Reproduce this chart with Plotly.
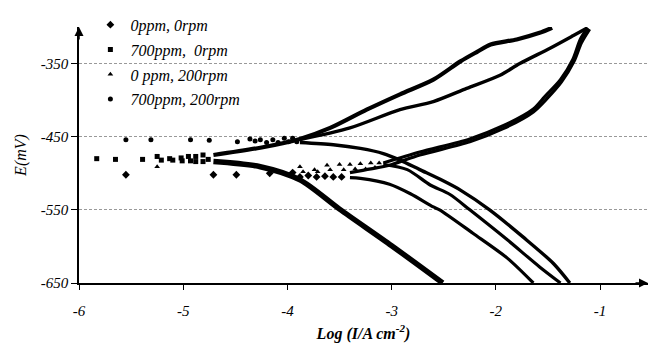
import plotly.graph_objects as go

# ---------------- data (log I, E/mV) ----------------
# 0ppm, 0rpm (diamonds)
d0_sparse_x = [-5.55, -4.71, -4.49, -4.17, -3.95, -3.88, -3.80, -3.72, -3.64, -3.56, -3.48]
d0_sparse_E = [-502, -502, -502, -500, -499, -505, -503, -505, -504, -505, -505]
d0_anod_x = [-3.40, -3.20, -3.02, -2.73, -2.25, -1.93, -1.64, -1.51, -1.37, -1.25, -1.18, -1.10]
d0_anod_E = [-499, -494, -489, -475, -457, -439, -416, -398, -375, -347, -322, -303]
d0_cath_x = [-3.40, -3.30, -3.02, -2.82, -2.60, -2.54, -2.22, -1.89, -1.64]
d0_cath_E = [-506, -507, -515, -528, -546, -550, -582, -616, -650]

# 700ppm, 0rpm (squares)
s7_sparse_x = [-5.83, -5.65, -5.39, -5.25, -5.21, -5.13, -5.10, -5.02, -5.01, -4.95, -4.93, -4.88, -4.88, -4.81, -4.81, -4.76]
s7_sparse_E = [-480, -481, -481, -477, -482, -480, -482, -479, -483, -477, -483, -477, -484, -475, -484, -481]
s7_anod_x = [-4.71, -4.26, -3.88, -3.59, -3.24, -2.92, -2.60, -2.34, -2.18, -2.05, -1.80, -1.58, -1.46]
s7_anod_E = [-475, -465, -453, -438, -413, -392, -372, -347, -334, -324, -317, -308, -301]
s7_cath_x = [-4.71, -4.26, -3.88, -3.50, -3.00, -2.51]
s7_cath_E = [-484, -491, -509, -549, -599, -650]

# 0 ppm, 200rpm (triangles)
t0_sparse_x = [-5.25, -3.88, -3.85, -3.74, -3.71, -3.62, -3.59, -3.50, -3.46, -3.40, -3.35, -3.30, -3.25, -3.20, -3.16, -3.12]
t0_sparse_E = [-491, -491, -498, -495, -498, -489, -495, -488, -495, -488, -494, -487, -494, -486, -492, -486]
t0_anod_x = [-3.08, -2.73, -2.25, -1.93, -1.64, -1.53, -1.38, -1.26, -1.19, -1.12]
t0_anod_E = [-486, -471, -453, -435, -412, -395, -372, -344, -317, -301]
t0_cath_x = [-3.08, -2.85, -2.63, -2.44, -2.25, -1.89, -1.58, -1.38]
t0_cath_E = [-488, -495, -516, -529, -550, -591, -628, -650]

# 700ppm, 200rpm (circles)
c7_sparse_x = [-5.55, -5.31, -4.93, -4.75, -4.48, -4.36, -4.31, -4.26, -4.20, -4.14, -4.09, -4.03, -3.99, -3.95, -3.91]
c7_sparse_E = [-454, -454, -454, -455, -457, -453, -456, -454, -458, -454, -458, -452, -457, -452, -457]
c7_anod_x = [-3.88, -3.40, -2.92, -2.60, -2.28, -1.96, -1.77, -1.48, -1.26, -1.12]
c7_anod_E = [-454, -438, -413, -402, -384, -366, -350, -329, -312, -301]
c7_cath_x = [-3.88, -3.56, -3.30, -3.08, -2.92, -2.73, -2.51, -2.34, -2.06, -1.74, -1.45, -1.29]
c7_cath_E = [-458, -461, -466, -473, -482, -495, -510, -523, -550, -587, -623, -650]

series_names = ["0ppm, 0rpm", "700ppm,  0rpm", "0 ppm, 200rpm", "700ppm, 200rpm"]
series_symbols = ["diamond", "square", "triangle-up", "circle"]
series_sizes = [6, 5, 5, 5]
series_widths = [(3.2, 3.2), (4.2, 5.5), (3.2, 3.2), (3.4, 3.4)]

x_ticks = [-6, -5, -4, -3, -2, -1]
y_ticks = [-650, -550, -450, -350]

data = [
    (d0_sparse_x, d0_sparse_E, d0_anod_x, d0_anod_E, d0_cath_x, d0_cath_E),
    (s7_sparse_x, s7_sparse_E, s7_anod_x, s7_anod_E, s7_cath_x, s7_cath_E),
    (t0_sparse_x, t0_sparse_E, t0_anod_x, t0_anod_E, t0_cath_x, t0_cath_E),
    (c7_sparse_x, c7_sparse_E, c7_anod_x, c7_anod_E, c7_cath_x, c7_cath_E),
]

FONT = "Liberation Serif"
fig = go.Figure()

for i, (sx, sE, ax_, aE, cx, cE) in enumerate(data):
    grp = f"g{i}"
    wa, wc = series_widths[i]
    fig.add_trace(go.Scatter(x=ax_, y=aE, mode="lines", line=dict(color="black", width=wa, shape="spline", smoothing=0.8),
                             legendgroup=grp, showlegend=False, hoverinfo="skip"))
    fig.add_trace(go.Scatter(x=cx, y=cE, mode="lines", line=dict(color="black", width=wc, shape="spline", smoothing=0.8),
                             legendgroup=grp, showlegend=False, hoverinfo="skip"))
    fig.add_trace(go.Scatter(x=sx, y=sE, mode="markers", name=series_names[i], legendgroup=grp,
                             marker=dict(symbol=series_symbols[i], size=series_sizes[i], color="black")))

# axis arrows
fig.add_annotation(x=-0.54, y=-650, xref="x", yref="y", ax=-14, ay=0, text="", showarrow=True,
                   arrowhead=2, arrowsize=1.2, arrowwidth=1.5, arrowcolor="black")
fig.add_annotation(x=-6, y=-300, xref="x", yref="y", ax=0, ay=14, text="", showarrow=True,
                   arrowhead=2, arrowsize=1.2, arrowwidth=1.5, arrowcolor="black")

fig.update_layout(
    width=650, height=343,
    margin=dict(l=79, r=2, t=27, b=60),
    paper_bgcolor="white", plot_bgcolor="white",
    font=dict(family=FONT, size=15, color="black"),
    showlegend=True,
    legend=dict(x=0.02, y=1.075, xanchor="left", yanchor="top", bgcolor="rgba(0,0,0,0)",
                font=dict(family=FONT, size=16, style="italic"), tracegroupgap=1, itemwidth=30),
    xaxis=dict(range=[-6, -0.54], tickvals=x_ticks, ticktext=[f"<i>{v}</i>" for v in x_ticks],
               showgrid=False, zeroline=False, showline=True, linecolor="black", linewidth=1.5,
               ticks="outside", ticklen=5, tickcolor="black", tickwidth=1.2, ticklabelstandoff=8,
               tickfont=dict(family=FONT, size=15),
               title=dict(text="<b><i>Log (I/A cm<sup>-2</sup>)</i></b>", font=dict(family=FONT, size=16), standoff=12)),
    yaxis=dict(range=[-650, -300], tickvals=y_ticks, ticktext=[f"<i>{v}</i>" for v in y_ticks],
               showgrid=True, gridcolor="#999999", griddash="3px,2px", gridwidth=1,
               zeroline=False, showline=True, linecolor="black", linewidth=1.5,
               ticks="outside", ticklen=6, tickcolor="black", tickwidth=1.2,
               tickfont=dict(family=FONT, size=15),
               title=dict(text="<i>E(mV)</i>", font=dict(family=FONT, size=16), standoff=10)),
)

fig.write_html("out.html", config={"displayModeBar": False},
               post_script="document.body.style.margin='0';document.body.style.overflow='hidden';")
